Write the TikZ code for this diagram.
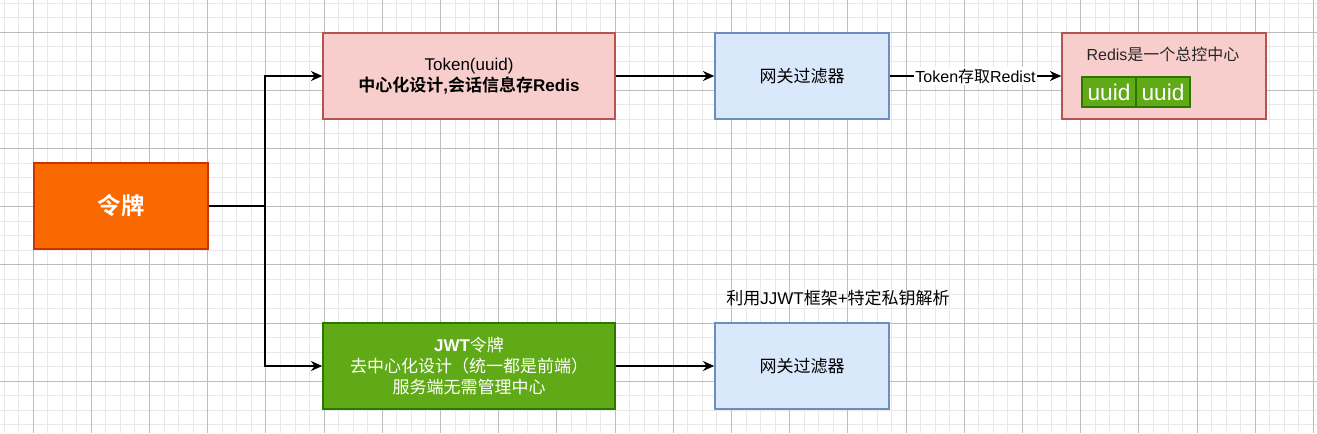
\documentclass[tikz,border=0pt]{standalone}
\usepackage{fontspec}
\setmainfont{Liberation Sans}
\newfontfamily\cjk{Noto Sans CJK SC}[BoldFont={Noto Sans CJK SC Bold}]
\newcommand{\zh}[1]{{\cjk #1}}
\usepackage{xcolor}
\usepackage{tikz}
\usetikzlibrary{positioning, arrows.meta}

\definecolor{orangefill}{HTML}{FA6800}
\definecolor{orangeline}{HTML}{C73500}
\definecolor{pinkfill}{HTML}{F8CECC}
\definecolor{pinkline}{HTML}{B85450}
\definecolor{bluefill}{HTML}{DAE8FC}
\definecolor{blueline}{HTML}{6C8EBF}
\definecolor{greenfill}{HTML}{60A917}
\definecolor{greenline}{HTML}{2D7600}

\begin{document}
\begin{tikzpicture}[x=0.75pt, y=-0.75pt, >={Stealth[length=8.5pt,width=7.5pt]},
    box/.style={draw, line width=1.1pt, inner sep=0pt, align=center, font=\fontsize{12.75}{15.4}\selectfont},
    orangebox/.style={box, fill=orangefill, draw=orangeline, text=white, minimum width=130.5pt, minimum height=64.5pt},
    pinkbox/.style={box, fill=pinkfill, draw=pinkline, minimum width=219pt, minimum height=64.5pt},
    bluebox/.style={box, fill=bluefill, draw=blueline, minimum width=130.5pt, minimum height=64.5pt},
    greenbox/.style={box, fill=greenfill, draw=greenline, text=white, minimum width=219pt, minimum height=64.5pt},
    uuidbox/.style={box, fill=greenfill, draw=greenline, text=white, outer sep=0pt, minimum width=40.5pt, minimum height=22.5pt, font=\fontsize{17}{20}\selectfont},
    gridminor/.style={draw=black!9, line width=0.6pt},
    gridmajor/.style={draw=black!26, line width=0.6pt},
    link/.style={->, line width=1.1pt},
    edgelabel/.style={fill=white, inner sep=1pt, font=\fontsize{12}{14}\selectfont}]

    \fill[white] (0,0) rectangle (1317,433);
    \useasboundingbox (0,0) rectangle (1317,433);

    % Draw background grid
    \foreach \k in {-2,...,88}
        \draw[gridminor] ({33+\k*14.55},0) -- ({33+\k*14.55},433);
    \foreach \k in {-2,...,27}
        \draw[gridminor] (0,{32+\k*14.55}) -- (1317,{32+\k*14.55});
    \foreach \k in {0,4,...,88}
        \draw[gridmajor] ({33+\k*14.55},0) -- ({33+\k*14.55},433);
    \foreach \k in {0,4,...,24}
        \draw[gridmajor] (0,{32+\k*14.55}) -- (1317,{32+\k*14.55});

    % Draw rectangles
    \node (ling) [orangebox, font=\fontsize{17.6}{20}\selectfont] at (121,206) {\zh{\bfseries 令牌}};
    \node (token) [pinkbox] at (469,76) {Token(uuid)\\ \textbf{\zh{中心化设计},\zh{会话信息存}Redis}};
    \node (gw1) [bluebox, right=73.9pt of token] {\zh{网关过滤器}};
    \node (redis) [pinkbox, minimum width=153pt, right=128.6pt of gw1] {};
    \node (rtitle) [font=\fontsize{12}{14}\selectfont, text=black!85] at (1163,54) {Redis\zh{是一个总控中心}};
    \node (uuid1) [uuidbox] at (1109,92) {uuid};
    \node (uuid2) [uuidbox, right=0pt of uuid1] {uuid};
    \node (jwt) [greenbox] at (469,366) {\textbf{JWT}\zh{令牌}\\ \zh{去中心化设计（统一都是前端）}\\ \zh{服务端无需管理中心}};
    \node (gw2) [bluebox, right=73.9pt of jwt] {\zh{网关过滤器}};
    \node (jjwt) [font=\fontsize{12.75}{15}\selectfont] at (838,298) {\zh{利用}JJWT\zh{框架}+\zh{特定私钥解析}};

    % Draw arrows
    \coordinate (split) at (265,206);
    \draw[line width=1.1pt] (ling.east) -- (split);
    \draw[link] (split) |- (token.west);
    \draw[link] (split) |- (jwt.west);
    \draw[link] (token.east) -- (gw1.west);
    \draw[link] (gw1.east) -- node[edgelabel] {Token\zh{存取}Redist} (redis.west);
    \draw[link] (jwt.east) -- (gw2.west);

\end{tikzpicture}
\end{document}
